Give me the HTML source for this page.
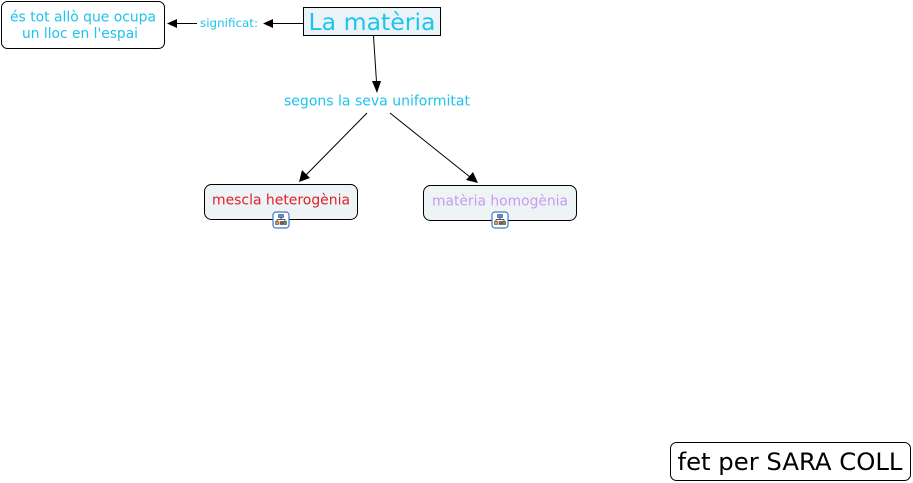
<!DOCTYPE html>
<html><head><meta charset="utf-8"><style>
html,body{margin:0;padding:0;background:#fff;}
svg{display:block;}
text{font-family:"DejaVu Sans","Liberation Sans",sans-serif;}
</style></head><body>
<svg width="913" height="483" viewBox="0 0 913 483" xmlns="http://www.w3.org/2000/svg">
<defs>
<g id="ico">
<rect x="0.5" y="0.5" width="16" height="16" rx="3" fill="#fff" stroke="#3a7ad0" stroke-width="1.2"/>
<rect x="6" y="3" width="5" height="3" fill="#5a8ee0" stroke="#234" stroke-width="0.5"/>
<path d="M8.5 6 V8 M4.5 8 H12.5 M4.5 8 V10 M12.5 8 V10" stroke="#222" stroke-width="0.8" fill="none"/>
<rect x="3" y="10" width="3" height="3" fill="#e0a030" stroke="#234" stroke-width="0.5"/>
<rect x="7.5" y="10" width="3" height="3" fill="#d04040" stroke="#234" stroke-width="0.5"/>
<rect x="11" y="10" width="3" height="3" fill="#50a050" stroke="#234" stroke-width="0.5"/>
</g>
</defs>

<!-- box 1 -->
<rect x="1.5" y="1.5" width="163" height="47" rx="6" fill="#fff" stroke="#000"/>
<text x="83" y="21.5" font-size="14" fill="#1ec3ee" text-anchor="middle" textLength="146" lengthAdjust="spacingAndGlyphs">és tot allò que ocupa</text>
<text x="80" y="38" font-size="14" fill="#1ec3ee" text-anchor="middle" textLength="116" lengthAdjust="spacingAndGlyphs">un lloc en l'espai</text>

<!-- significat connector -->
<line x1="177" y1="23.5" x2="197" y2="23.5" stroke="#000"/>
<polygon points="167,23.5 177,19 177,28" fill="#000"/>
<text x="229" y="27" font-size="11.5" fill="#1ec3ee" text-anchor="middle" textLength="58" lengthAdjust="spacingAndGlyphs">significat:</text>
<line x1="273" y1="23.5" x2="303" y2="23.5" stroke="#000"/>
<polygon points="263,23.5 273,19 273,28" fill="#000"/>

<!-- La matèria -->
<rect x="303.5" y="7.5" width="137" height="28" fill="#eaf4f8" stroke="#000"/>
<text x="372" y="30" font-size="23" fill="#1ec3ee" text-anchor="middle" textLength="127" lengthAdjust="spacingAndGlyphs">La matèria</text>

<!-- down line -->
<line x1="373.5" y1="36" x2="376.5" y2="82" stroke="#000"/>
<polygon points="377,93 372,81 381,81" fill="#000"/>
<text x="377" y="105.5" font-size="14" fill="#1ec3ee" text-anchor="middle" textLength="186" lengthAdjust="spacingAndGlyphs">segons la seva uniformitat</text>

<!-- diagonal lines -->
<line x1="367" y1="113" x2="306" y2="175" stroke="#000"/>
<polygon points="299,182 302,170 310,178" fill="#000"/>
<line x1="390" y1="113" x2="470" y2="177" stroke="#000"/>
<polygon points="478,183 466,180 473,172" fill="#000"/>

<!-- mescla heterogènia -->
<rect x="204.5" y="184.5" width="153" height="35" rx="7" fill="#eef3f5" stroke="#000"/>
<text x="281" y="204.5" font-size="14" fill="#e0202a" text-anchor="middle" textLength="138" lengthAdjust="spacingAndGlyphs">mescla heterogènia</text>
<use href="#ico" x="272.5" y="211.5"/>

<!-- matèria homogènia -->
<rect x="423.5" y="185.5" width="153" height="35" rx="7" fill="#eef3f5" stroke="#000"/>
<text x="500" y="205.5" font-size="14" fill="#c59cf0" text-anchor="middle" textLength="136" lengthAdjust="spacingAndGlyphs">matèria homogènia</text>
<use href="#ico" x="491.5" y="211.5"/>

<!-- fet per SARA COLL -->
<rect x="670.5" y="442.5" width="240" height="38" rx="6" fill="#fff" stroke="#000"/>
<text x="790" y="470" font-size="24" fill="#000" text-anchor="middle" textLength="225" lengthAdjust="spacingAndGlyphs">fet per SARA COLL</text>
</svg>
</body></html>
